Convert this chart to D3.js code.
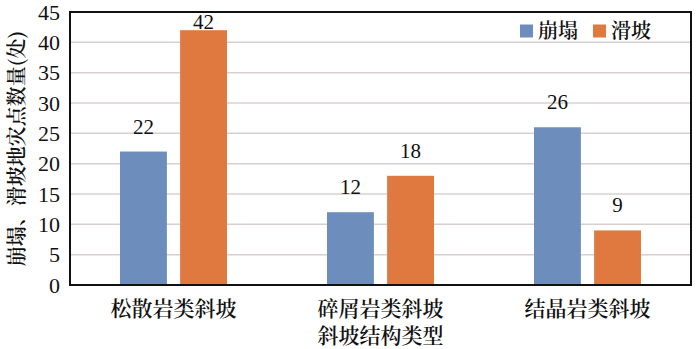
<!DOCTYPE html>
<html>
<head>
<meta charset="utf-8">
<script src="https://cdn.jsdelivr.net/npm/d3@7"></script>
<style>
  body { margin: 0; background: #fff; }
  svg { display: block; }
</style>
</head>
<body>
<div id="app"></div>
<script>
let categories = ['松散岩类斜坡', '碎屑岩类斜坡', '结晶岩类斜坡'];
let seriesNames = ['崩塌', '滑坡'];
let collapse = [22, 12, 26];
let landslide = [42, 18, 9];
let yTicks = [0, 5, 10, 15, 20, 25, 30, 35, 40, 45];

let colors = ['#6d8ebc', '#e0793f'];
let numFont = "'Liberation Serif'";
let cjkFont = "'Noto Serif CJK SC'";

let W = 700, H = 349;
let margin = { top: 12, right: 9, bottom: 64, left: 70 };
let width = W - margin.left - margin.right;
let height = H - margin.top - margin.bottom;

let svg = d3.select('#app').append('svg')
    .attr('width', W)
    .attr('height', H);

let g = svg.append('g')
    .attr('transform', `translate(${margin.left}, ${margin.top})`);

let x0 = d3.scaleBand()
    .domain(categories)
    .range([0, width]);

let x1 = d3.scaleBand()
    .domain(seriesNames)
    .range([50, x0.bandwidth() - 50])
    .paddingInner(0.22);

let y = d3.scaleLinear()
    .domain([0, 45])
    .range([height, 0]);

// gridlines
g.append('g')
  .selectAll('line')
  .data(yTicks.filter(d => d > 0 && d < 45))
  .enter().append('line')
    .attr('x1', 0)
    .attr('x2', width)
    .attr('y1', d => y(d))
    .attr('y2', d => y(d))
    .style('stroke', '#d8d0d0')
    .style('stroke-width', 1.5);

// y axis labels
let yAxis = d3.axisLeft(y)
    .tickValues(yTicks)
    .tickSize(0)
    .tickPadding(10);

g.append('g')
  .call(yAxis)
  .attr('font-family', numFont)
  .call(a => a.select('.domain').remove())
  .selectAll('text')
    .style('font-family', numFont)
    .style('font-size', '22px')
    .style('fill', '#111');

let data = categories.map((c, i) => ({ cat: c, vals: [collapse[i], landslide[i]] }));

let groups = g.selectAll('.grp')
  .data(data)
  .enter().append('g')
    .attr('class', 'grp')
    .attr('transform', d => `translate(${x0(d.cat)}, 0)`);

groups.selectAll('rect')
  .data(d => d.vals.map((v, i) => ({ name: seriesNames[i], v: v, i: i })))
  .enter().append('rect')
    .attr('x', d => x1(d.name))
    .attr('width', x1.bandwidth())
    .attr('y', d => y(d.v))
    .attr('height', d => height - y(d.v))
    .style('fill', d => colors[d.i]);

groups.selectAll('.lbl')
  .data(d => d.vals.map((v, i) => ({ name: seriesNames[i], v: v })))
  .enter().append('text')
    .attr('class', 'lbl')
    .attr('x', d => x1(d.name) + x1.bandwidth() / 2)
    .attr('y', d => Math.max(y(d.v) - 18, 17))
    .attr('text-anchor', 'middle')
    .style('font-family', numFont)
    .style('font-size', '21px')
    .style('fill', '#111')
    .text(d => d.v);

// frame
g.append('rect')
  .attr('width', width)
  .attr('height', height)
  .style('fill', 'none')
  .style('stroke', '#111')
  .style('stroke-width', 2);

// x category labels
g.append('g')
  .selectAll('text')
  .data(categories)
  .enter().append('text')
    .attr('x', d => x0(d) + x0.bandwidth() / 2)
    .attr('y', height + 31)
    .attr('text-anchor', 'middle')
    .style('font-family', cjkFont)
    .style('font-size', '21px')
    .style('font-weight', 600)
    .style('fill', '#111')
    .text(d => d);

// x title
g.append('text')
  .attr('x', width / 2)
  .attr('y', height + 58)
  .attr('text-anchor', 'middle')
  .style('font-family', cjkFont)
  .style('font-size', '21px')
  .style('font-weight', 600)
  .style('fill', '#111')
  .text('斜坡结构类型');

// y title
svg.append('text')
  .attr('transform', `translate(17, ${margin.top + height / 2}) rotate(-90)`)
  .attr('text-anchor', 'middle')
  .attr('dy', '0.35em')
  .style('font-family', cjkFont)
  .style('font-size', '20px')
  .style('font-weight', 600)
  .style('fill', '#111')
  .text('崩塌、滑坡地灾点数量(处)');

// legend
let legend = svg.append('g')
    .attr('transform', 'translate(520, 31)');

let legX = [0, 73];
seriesNames.forEach((s, i) => {
  let lg = legend.append('g').attr('transform', `translate(${legX[i]}, 0)`);
  lg.append('rect')
    .attr('x', 0)
    .attr('y', -6.5)
    .attr('width', 13)
    .attr('height', 13)
    .style('fill', colors[i]);
  lg.append('text')
    .attr('x', 18)
    .attr('y', 0)
    .attr('dy', '0.35em')
    .style('font-family', cjkFont)
    .style('font-size', '20px')
    .style('font-weight', 600)
    .style('fill', '#111')
    .text(s);
});
</script>
</body>
</html>
